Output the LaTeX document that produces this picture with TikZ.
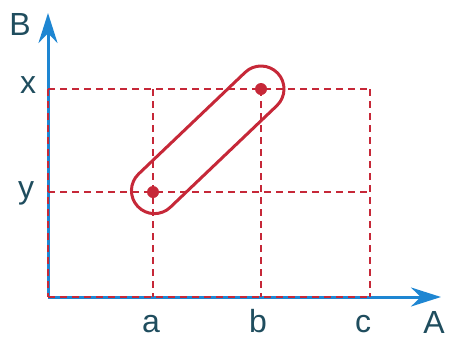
\documentclass[tikz,border=0pt]{standalone}
\usepackage{fontspec}
\setmainfont{Liberation Sans}
\usetikzlibrary{calc,arrows.meta}
\definecolor{gridred}{HTML}{C62838}
\definecolor{axisblue}{HTML}{1E86D2}
\definecolor{labeltxt}{HTML}{1F4D5E}
\begin{document}
\begin{tikzpicture}[x=1pt,y=-1pt,
  axisline/.style={draw=axisblue,line width=3pt,-{Stealth[length=30pt,width=19pt]}},
  gridline/.style={draw=gridred,line width=2.6pt,dash pattern=on 7pt off 5pt},
  loopline/.style={draw=gridred,line width=3pt,rounded corners=23pt},
  dotmark/.style={circle,fill=gridred,inner sep=0pt,minimum size=12pt},
  lbl/.style={text=labeltxt,font=\fontsize{32}{38}\selectfont,anchor=base,inner sep=0pt}]
\useasboundingbox (0,0) rectangle (449,341);
% grid coordinates
\coordinate (o) at (48,297);
\coordinate (ytop) at (48,13);
\coordinate (xend) at (441,297);
\coordinate (x0) at (48,89);  \coordinate (xa) at (153,89);  \coordinate (xb) at (261,89);  \coordinate (xc) at (370,89);
\coordinate (y0) at (48,192); \coordinate (ya) at (153,192); \coordinate (yb) at (261,192); \coordinate (yc) at (370,192);
\coordinate (b0) at (48,297); \coordinate (ba) at (153,297); \coordinate (bb) at (261,297); \coordinate (bc) at (370,297);
% axes
\draw[axisline] (o) -- (ytop);
\draw[axisline] (o) -- (xend);
% grid
\draw[gridline] (x0) -- (xc);
\draw[gridline] (y0) -- (yc);
\draw[gridline] (b0) -- (bc);
\draw[gridline] (x0) -- (b0);
\draw[gridline] (xa) -- (ba);
\draw[gridline] (xb) -- (bb);
\draw[gridline] (xc) -- (bc);
% loop
\coordinate (q1) at ($(ya)!-21pt!(xb)$);
\coordinate (q2) at ($(xb)!-23pt!(ya)$);
\draw[loopline] ($(q1)!23pt!90:(q2)$) -- ($(q2)!23pt!-90:(q1)$) -- ($(q2)!23pt!90:(q1)$) -- ($(q1)!23pt!-90:(q2)$) -- cycle;
\node[dotmark] (p1) at (ya) {};
\node[dotmark] (p2) at (xb) {};
% labels
\node[lbl] (lB) at (20,35) {B};
\node[lbl] (lx) at (28,93) {x};
\node[lbl] (ly) at (26,198) {y};
\node[lbl] (la) at (151,332) {a};
\node[lbl] (lb) at (258,332) {b};
\node[lbl] (lc) at (363,332) {c};
\node[lbl] (lA) at (434,333) {A};
\end{tikzpicture}
\end{document}
